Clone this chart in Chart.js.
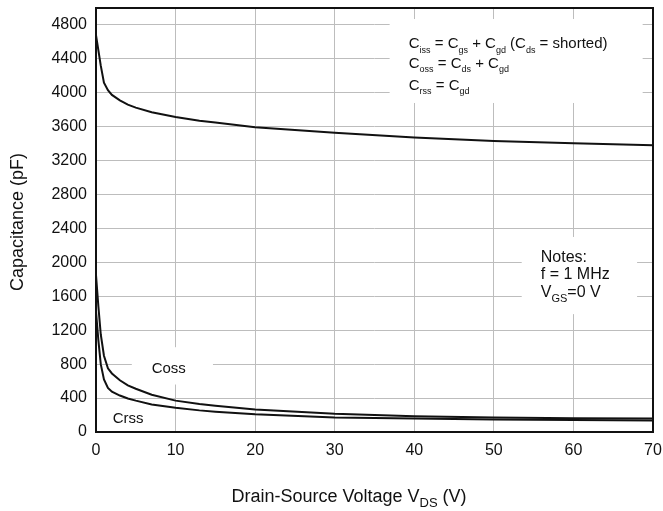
<!DOCTYPE html>
<html>
<head>
<meta charset="utf-8">
<script src="https://cdn.jsdelivr.net/npm/chart.js@4.4.1/dist/chart.umd.min.js"></script>
<style>
  html, body { margin: 0; padding: 0; background: #fff; }
  #wrap { width: 663px; height: 511px; position: relative; }
</style>
</head>
<body>
<div id="wrap"><canvas id="capChart"></canvas></div>
<script>
// drain-source voltage (V)
const vds  = [0, 0.3, 0.6, 1, 1.5, 2, 3, 4, 5, 7, 10, 13, 15, 20, 30, 40, 50, 60, 70];
// capacitances (pF)
const ciss = [4680, 4500, 4320, 4120, 4030, 3975, 3910, 3860, 3825, 3770, 3715, 3670, 3650, 3595, 3530, 3472, 3432, 3405, 3381];
const coss = [1850, 1480, 1150, 900, 750, 690, 610, 550, 510, 440, 370, 330, 310, 265, 215, 187, 172, 163, 158];
const crss = [1420, 1080, 800, 620, 520, 475, 430, 395, 370, 325, 285, 255, 240, 208, 172, 158, 148, 142, 136];

const xTicks = [0, 10, 20, 30, 40, 50, 60, 70];
const yTicks = [0, 400, 800, 1200, 1600, 2000, 2400, 2800, 3200, 3600, 4000, 4400, 4800];

const FONT = "'Liberation Sans', Arial, sans-serif";

function pts(ys) {
  return vds.map((v, i) => ({ x: v, y: ys[i] }));
}

// text with subscripts: runs of [string, isSub]
function drawRuns(ctx, x, y, runs, size, subScale) {
  let cx = x;
  runs.forEach(([s, sub]) => {
    const fs = sub ? Math.round(size * subScale) : size;
    ctx.font = fs + 'px ' + FONT;
    ctx.fillText(s, cx, sub ? y + size * 0.3 : y);
    cx += ctx.measureText(s).width;
  });
  return cx - x;
}

function runsWidth(ctx, runs, size, subScale) {
  let w = 0;
  runs.forEach(([s, sub]) => {
    ctx.font = (sub ? Math.round(size * subScale) : size) + 'px ' + FONT;
    w += ctx.measureText(s).width;
  });
  return w;
}

// white panels behind the notes (data coords)
const panels = [
  { x0: 36.9, x1: 68.7, y0: 3880, y1: 4870 },
  { x0: 53.5, x1: 68.0, y0: 1390, y1: 2300 },
  { x0: 4.5,  x1: 14.7, y0: 560,  y1: 1000 }
];

const formulaLines = [
  { y: 4525, runs: [['C'], ['iss', 1], [' = C'], ['gs', 1], [' + C'], ['gd', 1], [' (C'], ['ds', 1], [' = shorted)']] },
  { y: 4295, runs: [['C'], ['oss', 1], [' = C'], ['ds', 1], [' + C'], ['gd', 1]] },
  { y: 4035, runs: [['C'], ['rss', 1], [' = C'], ['gd', 1]] }
];

const noteLines = [
  { y: 2010, runs: [['Notes:']] },
  { y: 1800, runs: [['f = 1 MHz']] },
  { y: 1590, runs: [['V'], ['GS', 1], ['=0 V']] }
];

const curveLabels = [
  { x: 7.0, y: 700, text: 'Coss' },
  { x: 2.1, y: 108, text: 'Crss' }
];

const decorations = {
  id: 'decorations',
  beforeDatasetsDraw(chart) {
    const { ctx, scales: { x, y } } = chart;
    ctx.save();
    ctx.fillStyle = '#fff';
    panels.forEach(p => {
      const l = x.getPixelForValue(p.x0), r = x.getPixelForValue(p.x1);
      const t = y.getPixelForValue(p.y1), b = y.getPixelForValue(p.y0);
      ctx.fillRect(l, t, r - l, b - t);
    });
    ctx.restore();
  },
  afterDatasetsDraw(chart) {
    const { ctx, chartArea: a, scales: { x, y } } = chart;
    ctx.save();
    // plot frame
    ctx.strokeStyle = '#111';
    ctx.lineWidth = 2;
    ctx.strokeRect(a.left, a.top, a.right - a.left, a.bottom - a.top);

    ctx.fillStyle = '#111';
    ctx.textBaseline = 'alphabetic';
    ctx.textAlign = 'left';
    const fx = x.getPixelForValue(39.3);
    formulaLines.forEach(l => drawRuns(ctx, fx, y.getPixelForValue(l.y), l.runs, 15, 0.6));
    const nx = x.getPixelForValue(55.9);
    noteLines.forEach(l => drawRuns(ctx, nx, y.getPixelForValue(l.y), l.runs, 16, 0.7));
    ctx.font = '15px ' + FONT;
    curveLabels.forEach(c => ctx.fillText(c.text, x.getPixelForValue(c.x), y.getPixelForValue(c.y)));

    // axis titles
    const xt = [['Drain-Source Voltage V'], ['DS', 1], [' (V)']];
    const w = runsWidth(ctx, xt, 18, 0.7);
    drawRuns(ctx, 349 - w / 2, 502, xt, 18, 0.7);

    ctx.translate(23, 222);
    ctx.rotate(-Math.PI / 2);
    ctx.textAlign = 'center';
    ctx.font = '18px ' + FONT;
    ctx.fillText('Capacitance (pF)', 0, 0);
    ctx.restore();
  }
};

const line = (data) => ({
  data: pts(data),
  borderColor: '#111',
  borderWidth: 2,
  pointRadius: 0,
  tension: 0,
  fill: false
});

new Chart(document.getElementById('capChart'), {
  type: 'line',
  data: {
    datasets: [line(ciss), line(coss), line(crss)]
  },
  options: {
    responsive: true,
    maintainAspectRatio: false,
    animation: false,
    events: [],
    layout: { padding: { top: 8, right: 10, left: 0, bottom: 0 } },
    plugins: { legend: { display: false }, tooltip: { enabled: false } },
    scales: {
      x: {
        type: 'linear',
        min: 0,
        max: 70,
        afterBuildTicks(s) { s.ticks = xTicks.map(v => ({ value: v })); },
        afterFit(s) { s.height = 79; s.paddingLeft = 0; s.paddingRight = 0; },
        ticks: { font: { size: 16, family: FONT }, color: '#111', padding: 9, maxRotation: 0,
                 callback: v => String(v) },
        grid: { color: '#bdbdbd', lineWidth: 1, drawTicks: false },
        border: { display: false }
      },
      y: {
        min: 0,
        max: 5000,
        afterBuildTicks(s) { s.ticks = yTicks.map(v => ({ value: v })); },
        afterFit(s) { s.width = 96; s.paddingTop = 0; s.paddingBottom = 0; },
        ticks: { font: { size: 16, family: FONT }, color: '#111', padding: 9,
                 callback: v => String(v) },
        grid: { color: '#bdbdbd', lineWidth: 1, drawTicks: false },
        border: { display: false }
      }
    }
  },
  plugins: [decorations]
});
</script>
</body>
</html>
